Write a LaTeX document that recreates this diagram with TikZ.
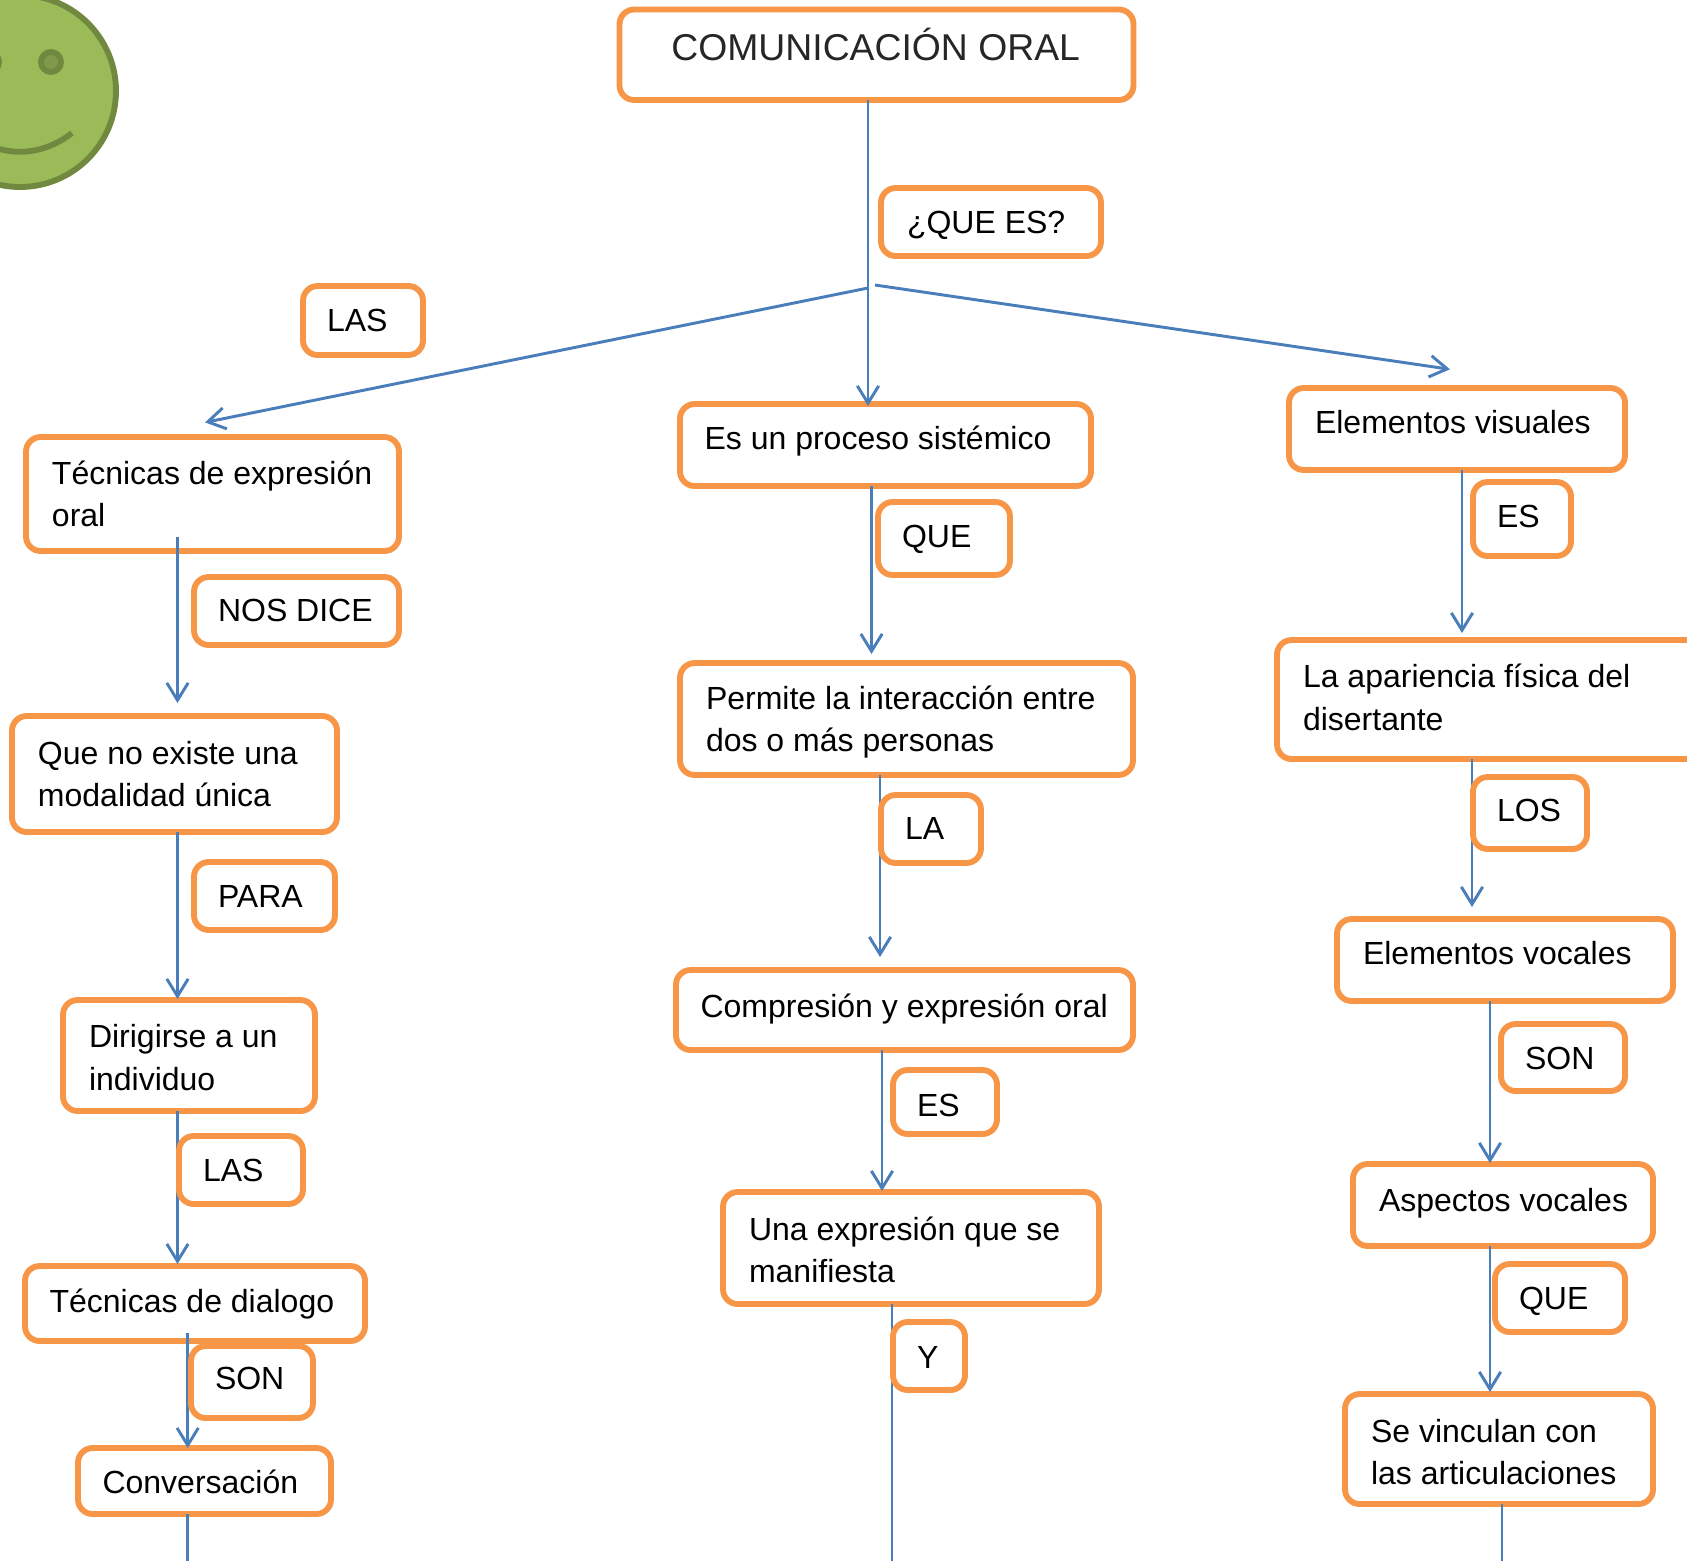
\documentclass[tikz,border=0pt]{standalone}
\usepackage{fontspec}
\setmainfont{Liberation Sans}
\usepackage{xcolor}
\usepackage{tikz}
\usetikzlibrary{arrows.meta,calc}
\definecolor{boxorange}{HTML}{F79646}
\definecolor{linkblue}{HTML}{4A7EBB}
\definecolor{faceGreen}{HTML}{9BBB59}
\definecolor{faceDark}{HTML}{71893F}
\definecolor{eyeGreen}{HTML}{7F9A4B}
\tikzset{>={Straight Barb[length=13pt,width=16pt]}}

\begin{document}
\begin{tikzpicture}[x=0.75pt,y=-0.75pt,
                          tbox/.style 2 args={draw=boxorange, line width=4.4pt, rounded corners=11pt,
                              anchor=north west, outer sep=0pt, inner sep=0pt,
                              text width={#1*0.75pt}, minimum height={#2*0.75pt}, align=left,
                              text height=17pt, text depth=0pt,
                              execute at begin node={\leftskip=19.5pt\spaceskip=.278em},
                              font=\fontsize{24}{32}\selectfont},
                          tag/.style 2 args={tbox={#1}{#2},
                              execute at begin node={\leftskip=18pt\spaceskip=.278em}},
                          narrow/.style={execute at begin node={\leftskip=18.4pt\spaceskip=.278em}},
                          twolines/.style={text depth=32pt},
                          link/.style={line width=2.2pt, linkblue},
                          arrowlink/.style={line width=2.2pt, linkblue,->,shorten >=-1.5pt},
                         ]

\clip (0,0) rectangle (1687,1561);

% carita
\draw[line width=4.4pt, faceDark, fill=faceGreen] (20,91) circle (96);
\draw[line width=4.4pt, faceDark, fill=eyeGreen] (51,62) circle (10);
\draw[line width=4.4pt, faceDark, fill=eyeGreen] (-11,62) circle (10);
\draw[line width=4.4pt, faceDark] (72,133) .. controls (40,158) and (0,158) .. (-32,133);

% centro
\node[tbox={514}{90.5},text=black!85,font=\fontsize{28}{32}\selectfont,
      text height=20pt,text depth=11.4pt,execute at begin node={\leftskip=38.9pt\spaceskip=.278em}] (title) at (619.5,9.5) {COMUNICACIÓN ORAL};
\node[tbox={411}{82},narrow,text depth=9.7pt] (proceso) at (680,404) {Es un proceso sistémico};
\node[tbox={453}{112},twolines] (permite) at (680,663) {Permite la interacción entre\\dos o más personas};
\node[tbox={457}{80},narrow,text depth=6.4pt] (compresion) at (676,970) {Compresión y expresión oral};
\node[tbox={376}{112},text height=20pt,twolines] (expresion) at (723,1192) {Una expresión que se\\manifiesta};

% izquierda
\node[tbox={373}{114},twolines] (tecnicas) at (26,437) {Técnicas de expresión\\oral};
\node[tbox={325}{116},twolines] (modalidad) at (12,716) {Que no existe una\\modalidad única};
\node[tbox={252}{111},text height=20pt,twolines] (dirigirse) at (63,1000) {Dirigirse a un\\individuo};
\node[tbox={340}{75},narrow,text depth=4pt] (dialogo) at (25,1266) {Técnicas de dialogo};
\node[tbox={253}{66},narrow,text height=19.4pt] (conversacion) at (78,1448) {Conversación};

% derecha
\node[tbox={336}{82},text depth=9.7pt] (visuales) at (1289,388) {Elementos visuales};
\node[tbox={433}{119},text depth=35.2pt] (apariencia) at (1277,640) {La apariencia física del\\disertante};
\node[tbox={336}{82},text depth=9.7pt] (vocales) at (1337,919) {Elementos vocales};
\node[tbox={300}{82},text depth=8pt] (aspectos) at (1353,1164) {Aspectos vocales};
\node[tbox={308}{110},text height=21.5pt,twolines] (vinculan) at (1345,1394) {Se vinculan con\\las articulaciones};

\coordinate (ramaIzq) at (868,288);
\coordinate (ramaDer) at (875,285);
\coordinate (finIzq) at (187.7,1561);
\coordinate (finCentro) at (892,1561);
\coordinate (finDer) at (1502,1561);

\draw[arrowlink] ($(title.south west)+(248.5,0)$) -- ($(proceso.north west)+(188,0)$);
\draw[arrowlink] (ramaIzq) -- ($(tecnicas.north west)+(181,-15)$);
\draw[arrowlink] (ramaDer) -- ($(visuales.north west)+(159,-19)$);

\draw[arrowlink] ($(tecnicas.south west)+(151.5,-14)$) -- ($(modalidad.north west)+(165.5,-15)$);
\draw[arrowlink] ($(modalidad.south west)+(165.5,0)$) -- ($(dirigirse.north west)+(114.5,-3)$);
\draw[arrowlink] ($(dirigirse.south west)+(114.5,0)$) -- ($(dialogo.north west)+(152.5,-4)$);
\draw[arrowlink] ($(dialogo.south west)+(162.7,-8)$) -- ($(conversacion.north west)+(109.7,-2)$);
\draw[link] ($(conversacion.south west)+(109.7,0)$) -- (finIzq);

\draw[arrowlink] ($(proceso.south west)+(191.5,0)$) -- ($(permite.north west)+(191.5,-11)$);
\draw[arrowlink] ($(permite.south west)+(200,0)$) -- ($(compresion.north west)+(204,-15)$);
\draw[arrowlink] ($(compresion.south west)+(206,0)$) -- ($(expresion.north west)+(159,-3)$);
\draw[link] ($(expresion.south west)+(169,0)$) -- (finCentro);

\draw[arrowlink] ($(visuales.south west)+(173,0)$) -- ($(apariencia.north west)+(185,-9)$);
\draw[arrowlink] ($(apariencia.south west)+(195,0)$) -- ($(vocales.north west)+(135,-14)$);
\draw[arrowlink] ($(vocales.south west)+(153,0)$) -- ($(aspectos.north west)+(137,-3)$);
\draw[arrowlink] ($(aspectos.south west)+(137,0)$) -- ($(vinculan.north west)+(145,-4)$);
\draw[link] ($(vinculan.south west)+(157,0)$) -- (finDer);

% etiquetas
\node[tbox={220}{68}] (queEs) at (881,188) {¿QUE ES?};
\node[tag={132}{73},text depth=4pt] (que) at (878,502) {QUE};
\node[tag={100}{68},text depth=1.6pt] (la) at (881,795) {LA};
\node[tag={104}{64},text height=21pt] (es) at (893,1070) {ES};
\node[tag={72}{68},text height=18.6pt] (y) at (893,1322) {Y};
\node[tag={120}{69}] (las) at (303,286) {LAS};
\node[tag={205}{68},text depth=1.6pt] (nosDice) at (194,577) {NOS DICE};
\node[tag={141}{68}] (para) at (194,862) {PARA};
\node[tag={124}{68}] (lasDos) at (179,1136) {LAS};
\node[tag={122}{72},text depth=6.4pt] (son) at (191,1346) {SON};
\node[tag={98}{74},text depth=4pt] (esDer) at (1473,482) {ES};
\node[tag={114}{72},text depth=4.8pt] (los) at (1473,777) {LOS};
\node[tag={124}{67},text height=18.6pt] (sonDer) at (1501,1024) {SON};
\node[tag={130}{68}] (queDer) at (1495,1264) {QUE};

\end{tikzpicture}
\end{document}
